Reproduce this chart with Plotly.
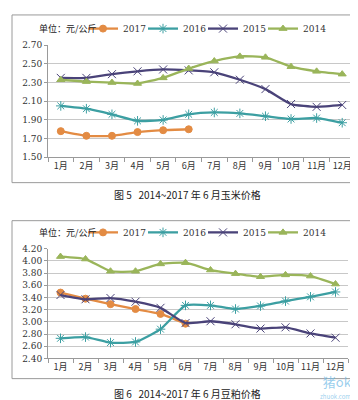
import plotly.graph_objects as go

months = ["1月", "2月", "3月", "4月", "5月", "6月", "7月", "8月", "9月", "10月", "11月", "12月"]

corn_2017 = [1.78, 1.73, 1.73, 1.77, 1.79, 1.80]
corn_2016 = [2.05, 2.02, 1.96, 1.89, 1.90, 1.96, 1.98, 1.97, 1.94, 1.91, 1.92, 1.87]
corn_2015 = [2.35, 2.35, 2.39, 2.42, 2.44, 2.43, 2.41, 2.33, 2.23, 2.07, 2.04, 2.06]
corn_2014 = [2.33, 2.31, 2.30, 2.29, 2.35, 2.45, 2.53, 2.58, 2.57, 2.47, 2.42, 2.39]

soy_2017 = [3.48, 3.38, 3.29, 3.21, 3.13, 2.97]
soy_2016 = [2.73, 2.75, 2.66, 2.67, 2.88, 3.27, 3.27, 3.21, 3.26, 3.34, 3.41, 3.49]
soy_2015 = [3.44, 3.37, 3.39, 3.33, 3.23, 2.98, 3.01, 2.96, 2.89, 2.91, 2.81, 2.74]
soy_2014 = [4.07, 4.03, 3.83, 3.83, 3.95, 3.97, 3.85, 3.79, 3.74, 3.77, 3.75, 3.62]

years = ["2017", "2016", "2015", "2014"]
colors = {"2017": "#E38B43", "2016": "#3C9FA2", "2015": "#4A4379", "2014": "#9AB55A"}
symbols = {"2017": "circle", "2016": "asterisk-open", "2015": "x-thin-open", "2014": "triangle-up"}
sizes = {"2017": 7, "2016": 8, "2015": 8, "2014": 7}

W, H = 358, 400
def px(x): return x / W
def py(y): return 1 - y / H

fig = go.Figure()

def add_series(vals, year, xa, ya, leg):
    c = colors[year]
    fig.add_trace(go.Scatter(
        x=months[:len(vals)], y=vals, name=year, mode="lines+markers",
        xaxis=xa, yaxis=ya, legend=leg,
        line=dict(color=c, width=2.3, shape="spline", smoothing=0.5),
        marker=dict(symbol=symbols[year], size=sizes[year], color=c,
                    line=dict(color=c, width=1)),
    ))

leg_x = [75, 135, 195, 255]
legends = {}
n = 1
for chart, (series, xa, ya, ly) in enumerate([
        ([corn_2017, corn_2016, corn_2015, corn_2014], "x", "y", 16),
        ([soy_2017, soy_2016, soy_2015, soy_2014], "x2", "y2", 225)]):
    for i, (yr, v) in enumerate(zip(years, series)):
        name = "legend" if n == 1 else f"legend{n}"
        legends[name] = dict(orientation="h", x=px(leg_x[i]), y=py(ly),
                             xanchor="left", yanchor="middle",
                             font=dict(family="DejaVu Serif", size=9, color="#333"),
                             itemwidth=30, bgcolor="rgba(0,0,0,0)")
        add_series(v, yr, xa, ya, name)
        n += 1

tickfont = dict(family="DejaVu Serif, Noto Sans CJK SC", size=9, color="#333")
xcommon = dict(type="category", categoryorder="array", categoryarray=months,
               range=[-0.5, 11.5], showline=True, linecolor="#9a9a9a", linewidth=1,
               ticks="outside", ticklen=4, tickcolor="#9a9a9a", tickson="boundaries",
               tickangle=0, showgrid=False,
               tickfont=dict(family="Noto Sans CJK SC", size=9, color="#333"))
ycommon = dict(showline=True, linecolor="#9a9a9a", linewidth=1, ticks="outside",
               ticklen=3, tickcolor="#9a9a9a", showgrid=True, gridcolor="#c8c8c8",
               gridwidth=1, tickformat=".2f", dtick=0.2, tickfont=tickfont, zeroline=False)

fig.update_layout(
    width=W, height=H, margin=dict(l=0, r=0, t=0, b=0),
    paper_bgcolor="white", plot_bgcolor="white",
    xaxis=dict(domain=[px(40), px(347)], anchor="y", **xcommon),
    yaxis=dict(domain=[py(148), py(33)], anchor="x", range=[1.5, 2.7], tick0=1.5, **ycommon),
    xaxis2=dict(domain=[px(40), px(340)], anchor="y2", **xcommon),
    yaxis2=dict(domain=[py(354.3), py(241.7)], anchor="x2", range=[2.4, 4.2], tick0=2.4, **ycommon),
    showlegend=True,
    **legends,
)

# frames
for (x0, y0, x1, y1) in [(4, 2, 351, 174), (4, 213, 351, 375)]:
    fig.add_shape(type="rect", xref="paper", yref="paper",
                  x0=px(x0), x1=px(x1), y0=py(y1), y1=py(y0),
                  line=dict(color="#9a9a9a", width=1), fillcolor="rgba(0,0,0,0)")

ann = [
    dict(text="单位：元/公斤", x=px(29), y=py(16), xanchor="left", size=9),
    dict(text="单位：元/公斤", x=px(29), y=py(225), xanchor="left", size=9),
    dict(text="图 5   2014~2017 年 6 月玉米价格", x=px(179), y=py(186), xanchor="center", size=10),
    dict(text="图 6   2014~2017 年 6 月豆粕价格", x=px(179), y=py(390), xanchor="center", size=10),
]
for a in ann:
    fig.add_annotation(text=a["text"], x=a["x"], y=a["y"], xref="paper", yref="paper",
                       xanchor=a["xanchor"], yanchor="middle", showarrow=False,
                       font=dict(family="Noto Sans CJK SC", size=a["size"], color="#222"))

# watermark
fig.add_annotation(
    text="<span style='font-size:13px'>猪ok</span><br><span style='font-size:6px'>zhuok.com</span>",
    x=px(346), y=py(400), xref="paper", yref="paper", align="right",
    xanchor="right", yanchor="bottom", showarrow=False,
    font=dict(family="Noto Sans CJK SC", size=9, color="rgba(110,185,230,0.7)"))

fig.write_html("out.html")
